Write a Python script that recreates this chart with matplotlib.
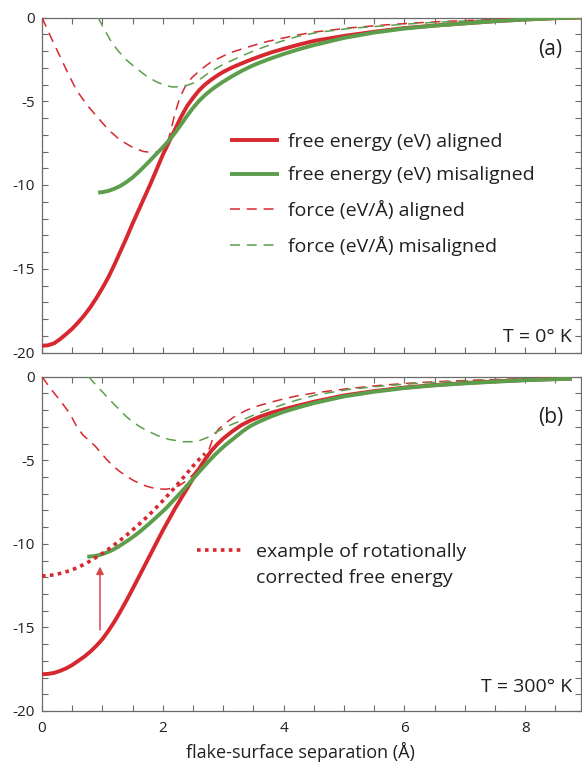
import matplotlib
matplotlib.use("Agg")
import matplotlib.pyplot as plt

plt.rcParams['font.family'] = ['Open Sans', 'DejaVu Sans']

# ---------------- data: panel (a), T = 0 K ----------------
a_red_x = [0, 0.1, 0.2, 0.3, 0.4, 0.5, 0.6, 0.7, 0.8, 0.9, 1.0, 1.1, 1.2, 1.3, 1.4, 1.5, 1.6, 1.7, 1.8, 1.9, 2.0,
           2.1, 2.2, 2.3, 2.4, 2.5, 2.6, 2.7, 2.8, 2.9, 3.0, 3.15, 3.3, 3.45, 3.6, 3.8, 4.0, 4.25, 4.5, 5.0, 5.5,
           6.0, 6.5, 7.0, 7.5, 8.0, 8.5, 8.95]
a_red_y = [-19.6, -19.57, -19.45, -19.2, -18.9, -18.58, -18.2, -17.78, -17.3, -16.75, -16.15, -15.5, -14.75,
           -13.95, -13.15, -12.3, -11.5, -10.7, -9.9, -9.05, -8.2, -7.45, -6.7, -5.95, -5.3, -4.8, -4.35, -4.0,
           -3.72, -3.47, -3.25, -2.98, -2.75, -2.53, -2.33, -2.08, -1.87, -1.62, -1.4, -1.1, -0.85, -0.63, -0.48,
           -0.35, -0.22, -0.12, -0.04, 0]

a_grn_x = [0.93, 1.0, 1.1, 1.2, 1.3, 1.4, 1.5, 1.6, 1.7, 1.8, 1.9, 2.0, 2.1, 2.2, 2.3, 2.4, 2.5, 2.6, 2.7, 2.8,
           2.9, 3.0, 3.15, 3.3, 3.45, 3.6, 3.8, 4.0, 4.25, 4.5, 5.0, 5.5, 6.0, 6.5, 7.0, 7.5, 8.0, 8.5, 8.95]
a_grn_y = [-10.45, -10.43, -10.35, -10.22, -10.05, -9.82, -9.55, -9.22, -8.87, -8.5, -8.12, -7.75, -7.35, -6.9,
           -6.4, -5.88, -5.4, -4.98, -4.63, -4.33, -4.07, -3.83, -3.5, -3.2, -2.93, -2.7, -2.43, -2.18, -1.9,
           -1.65, -1.22, -0.9, -0.66, -0.49, -0.35, -0.22, -0.12, -0.04, 0]

a_fred_x = [0, 0.15, 0.3, 0.44, 0.57, 0.74, 0.91, 1.1, 1.29, 1.5, 1.68, 1.85, 1.95, 2.03, 2.1, 2.15, 2.2, 2.26,
            2.32, 2.37, 2.48, 2.6, 2.78, 3.0, 3.17, 3.45, 3.72, 4.0, 4.22, 4.55, 5.1, 5.65, 6.2, 6.75, 7.3, 7.86,
            8.4, 8.95]
a_fred_y = [0, -1.2, -2.34, -3.4, -4.33, -5.2, -5.92, -6.7, -7.31, -7.75, -8.0, -8.07, -8.0, -7.75, -7.2, -6.5,
            -5.75, -5.03, -4.5, -4.13, -3.6, -3.2, -2.7, -2.3, -2.04, -1.72, -1.44, -1.22, -1.05, -0.85, -0.62,
            -0.45, -0.32, -0.22, -0.14, -0.08, -0.03, 0]

a_fgrn_x = [0.93, 1.0, 1.13, 1.25, 1.4, 1.55, 1.73, 1.9, 2.05, 2.17, 2.3, 2.4, 2.5, 2.65, 2.78, 3.0, 3.28, 3.5,
            3.77, 4.0, 4.22, 4.55, 5.1, 5.65, 6.2, 6.75, 7.3, 7.86, 8.4, 8.95]
a_fgrn_y = [0, -0.5, -1.34, -1.95, -2.54, -3.0, -3.5, -3.85, -4.07, -4.15, -4.12, -4.05, -3.92, -3.6, -3.25,
            -2.8, -2.34, -2.0, -1.64, -1.38, -1.14, -0.9, -0.65, -0.5, -0.35, -0.25, -0.16, -0.1, -0.04, 0]

# ---------------- data: panel (b), T = 300 K ----------------
b_red_x = [0, 0.1, 0.2, 0.3, 0.4, 0.5, 0.6, 0.7, 0.8, 0.9, 1.0, 1.1, 1.2, 1.3, 1.4, 1.5, 1.6, 1.7, 1.8, 1.9, 2.0,
           2.1, 2.2, 2.3, 2.4, 2.5, 2.6, 2.7, 2.8, 2.9, 3.0, 3.15, 3.3, 3.45, 3.6, 3.8, 4.0, 4.25, 4.5, 5.0, 5.5,
           6.0, 6.5, 7.0, 7.5, 8.0, 8.5, 8.77]
b_red_y = [-17.8, -17.78, -17.72, -17.6, -17.45, -17.25, -17.0, -16.75, -16.45, -16.1, -15.7, -15.2, -14.65,
           -14.03, -13.38, -12.7, -12.0, -11.3, -10.6, -9.9, -9.2, -8.55, -7.9, -7.3, -6.7, -6.1, -5.5, -4.95,
           -4.45, -4.05, -3.7, -3.27, -2.9, -2.62, -2.4, -2.15, -1.95, -1.72, -1.5, -1.12, -0.86, -0.65, -0.5,
           -0.38, -0.28, -0.2, -0.14, -0.12]

b_grn_x = [0.75, 0.85, 0.95, 1.05, 1.15, 1.25, 1.35, 1.45, 1.55, 1.65, 1.75, 1.85, 1.95, 2.06, 2.15, 2.25, 2.35,
           2.45, 2.55, 2.65, 2.75, 2.85, 2.95, 3.05, 3.2, 3.32, 3.44, 3.6, 3.8, 4.0, 4.25, 4.5, 5.0, 5.5, 6.0,
           6.5, 7.0, 7.5, 8.0, 8.5, 8.77]
b_grn_y = [-10.77, -10.74, -10.67, -10.55, -10.4, -10.2, -9.97, -9.73, -9.47, -9.18, -8.87, -8.55, -8.22, -7.85,
           -7.5, -7.12, -6.72, -6.32, -5.9, -5.5, -5.1, -4.72, -4.37, -4.05, -3.62, -3.27, -2.97, -2.68, -2.37,
           -2.1, -1.83, -1.58, -1.18, -0.9, -0.68, -0.52, -0.4, -0.3, -0.21, -0.15, -0.12]

b_fred_x = [0, 0.08, 0.15, 0.3, 0.46, 0.57, 0.68, 0.79, 0.88, 0.96, 1.07, 1.18, 1.29, 1.4, 1.5, 1.62, 1.73, 1.85,
            1.95, 2.05, 2.15, 2.28, 2.4, 2.5, 2.6, 2.68, 2.73, 2.78, 2.84, 2.92, 3.06, 3.2, 3.39, 3.6, 3.83, 4.0,
            4.22, 4.55, 5.1, 5.65, 6.2, 6.75, 7.3, 7.86, 8.4, 8.77]
b_fred_y = [0, -0.4, -0.75, -1.42, -2.2, -2.95, -3.5, -3.85, -4.15, -4.49, -4.95, -5.35, -5.68, -5.95, -6.18,
            -6.4, -6.55, -6.67, -6.72, -6.73, -6.68, -6.5, -6.2, -5.85, -5.4, -5.0, -4.68, -4.2, -3.6, -3.15,
            -2.72, -2.35, -2.0, -1.72, -1.49, -1.33, -1.15, -0.95, -0.7, -0.5, -0.36, -0.26, -0.19, -0.14, -0.11,
            -0.1]

b_fgrn_x = [0.77, 0.85, 0.96, 1.07, 1.18, 1.29, 1.4, 1.51, 1.62, 1.75, 1.9, 2.1, 2.34, 2.56, 2.75, 2.89, 3.05,
            3.28, 3.5, 3.72, 4.0, 4.22, 4.55, 5.1, 5.65, 6.2, 6.75, 7.3, 7.86, 8.4, 8.77]
b_fgrn_y = [0, -0.32, -0.75, -1.18, -1.6, -2.0, -2.4, -2.72, -2.99, -3.25, -3.5, -3.75, -3.89, -3.89, -3.62,
            -3.3, -3.0, -2.65, -2.3, -2.0, -1.65, -1.4, -1.08, -0.75, -0.55, -0.4, -0.29, -0.21, -0.15, -0.12,
            -0.1]

b_rot_x = [0, 0.1, 0.2, 0.3, 0.41, 0.5, 0.6, 0.7, 0.8, 0.9, 1.0, 1.1, 1.2, 1.3, 1.4, 1.5, 1.6, 1.7, 1.8, 1.9,
           2.0, 2.1, 2.2, 2.3, 2.4, 2.5, 2.6, 2.7]
b_rot_y = [-11.92, -11.9, -11.85, -11.77, -11.66, -11.55, -11.4, -11.22, -11.02, -10.8, -10.57, -10.32, -10.05,
           -9.77, -9.48, -9.17, -8.85, -8.52, -8.17, -7.8, -7.42, -7.03, -6.62, -6.2, -5.78, -5.35, -4.95, -4.6]

arrow_x = 0.96
arrow_y0 = -15.15
arrow_y1 = -11.36

legend_labels = ["free energy (eV) aligned", "free energy (eV) misaligned",
                 "force (eV/\u00c5) aligned", "force (eV/\u00c5) misaligned"]
rot_label = ["example of rotationally", "corrected free energy"]
x_tick_values = [0, 2, 4, 6, 8]
y_tick_values = [0, -5, -10, -15, -20]

# ---------------- styling ----------------
W, H = 582, 763
RED = '#d7282f'
GRN = '#5c9e4c'
SPINE = '#6b6b6b'
TXT = '#231f20'
LW_SOLID = 2.8
LW_DASH = 1.1
DASH = (0, (6.5, 4.5))

fig = plt.figure(figsize=(W / 100, H / 100), dpi=100)

def px_axes(left, top, right, bottom):
    return fig.add_axes([left / W, 1 - bottom / H, (right - left) / W, (bottom - top) / H])

ax_a = px_axes(42, 17.5, 580.5, 352.5)
ax_b = px_axes(42, 376.7, 580.5, 711)

XMAX = (580.5 - 42) / 60.4
xt = [i * 0.5 for i in range(0, 18)]
yt = list(range(-20, 1))

for ax in (ax_a, ax_b):
    ax.set_xlim(0, XMAX)
    ax.set_ylim(-20, 0)
    ax.set_xticks(xt)
    ax.set_yticks(yt)
    ax.set_yticklabels([str(v) if v in y_tick_values else '' for v in yt])
    ax.tick_params(direction='in', length=4, width=0.8, color=SPINE,
                   top=True, right=True, labelsize=11, labelcolor=TXT, pad=5)
    ax.tick_params(axis='x', pad=7)
    for s in ax.spines.values():
        s.set_color(SPINE)
        s.set_linewidth(0.9)

ax_a.set_xticklabels([])
ax_b.set_xticklabels([(str(int(v)) if v in x_tick_values else '') for v in xt])

# panel (a)
l1, = ax_a.plot(a_red_x, a_red_y, color=RED, lw=LW_SOLID, solid_capstyle='butt',
                solid_joinstyle='round', label=legend_labels[0], zorder=4)
l2, = ax_a.plot(a_grn_x, a_grn_y, color=GRN, lw=LW_SOLID, solid_capstyle='butt',
                solid_joinstyle='round', label=legend_labels[1], zorder=5)
l3, = ax_a.plot(a_fred_x, a_fred_y, color=RED, lw=LW_DASH, linestyle=DASH, label=legend_labels[2], zorder=3)
l4, = ax_a.plot(a_fgrn_x, a_fgrn_y, color=GRN, lw=LW_DASH, linestyle=DASH, label=legend_labels[3], zorder=3)

leg_a = ax_a.legend(handles=[l1, l2, l3, l4], loc='center left',
                    bbox_to_anchor=(230 / W, 1 - 194.2 / H), bbox_transform=fig.transFigure,
                    frameon=False, fontsize=14, handlelength=2.53, handletextpad=0.46,
                    labelspacing=0.8, borderpad=0, borderaxespad=0)
for t in leg_a.get_texts():
    t.set_color(TXT)

ax_a.text(8.41, -1.94, "(a)", fontsize=15, ha='center', va='center', color=TXT)
ax_a.text(8.77, -19.05, "T = 0\u00b0 K", fontsize=14, ha='right', va='center', color=TXT)

# panel (b)
ax_b.plot(b_red_x, b_red_y, color=RED, lw=LW_SOLID, solid_capstyle='butt', solid_joinstyle='round', zorder=4)
ax_b.plot(b_grn_x, b_grn_y, color=GRN, lw=LW_SOLID, solid_capstyle='butt', solid_joinstyle='round', zorder=5)
ax_b.plot(b_fred_x, b_fred_y, color=RED, lw=LW_DASH, linestyle=DASH, zorder=3)
ax_b.plot(b_fgrn_x, b_fgrn_y, color=GRN, lw=LW_DASH, linestyle=DASH, zorder=3)
l5, = ax_b.plot(b_rot_x, b_rot_y, color=RED, lw=2.6, linestyle=(0, (1, 1.2)),
                dash_capstyle='butt', label=rot_label[0], zorder=6)

ax_b.annotate('', xy=(arrow_x, arrow_y1), xytext=(arrow_x, arrow_y0),
              arrowprops=dict(arrowstyle='-|>', color='#d9464a', lw=1.1,
                              mutation_scale=11, shrinkA=0, shrinkB=0))

leg_b = ax_b.legend(handles=[l5], loc='center left',
                    bbox_to_anchor=(197 / W, 1 - 552 / H), bbox_transform=fig.transFigure,
                    frameon=False, fontsize=14, handlelength=2.37, handletextpad=0.67,
                    borderpad=0, borderaxespad=0)
for t in leg_b.get_texts():
    t.set_color(TXT)
fig.text(256 / W, 1 - 578 / H, rot_label[1], fontsize=14, ha='left', va='center', color=TXT)

ax_b.text(8.43, -2.47, "(b)", fontsize=15, ha='center', va='center', color=TXT)
ax_b.text(8.77, -18.56, "T = 300\u00b0 K", fontsize=14, ha='right', va='center', color=TXT)

ax_b.set_xlabel("flake-surface separation (\u00c5)", fontsize=13, color=TXT, va='center')
ax_b.xaxis.set_label_coords((300 - 42) / (580.5 - 42), -(752 - 711) / (711 - 376.7))

fig.savefig("out.png", dpi=100)
